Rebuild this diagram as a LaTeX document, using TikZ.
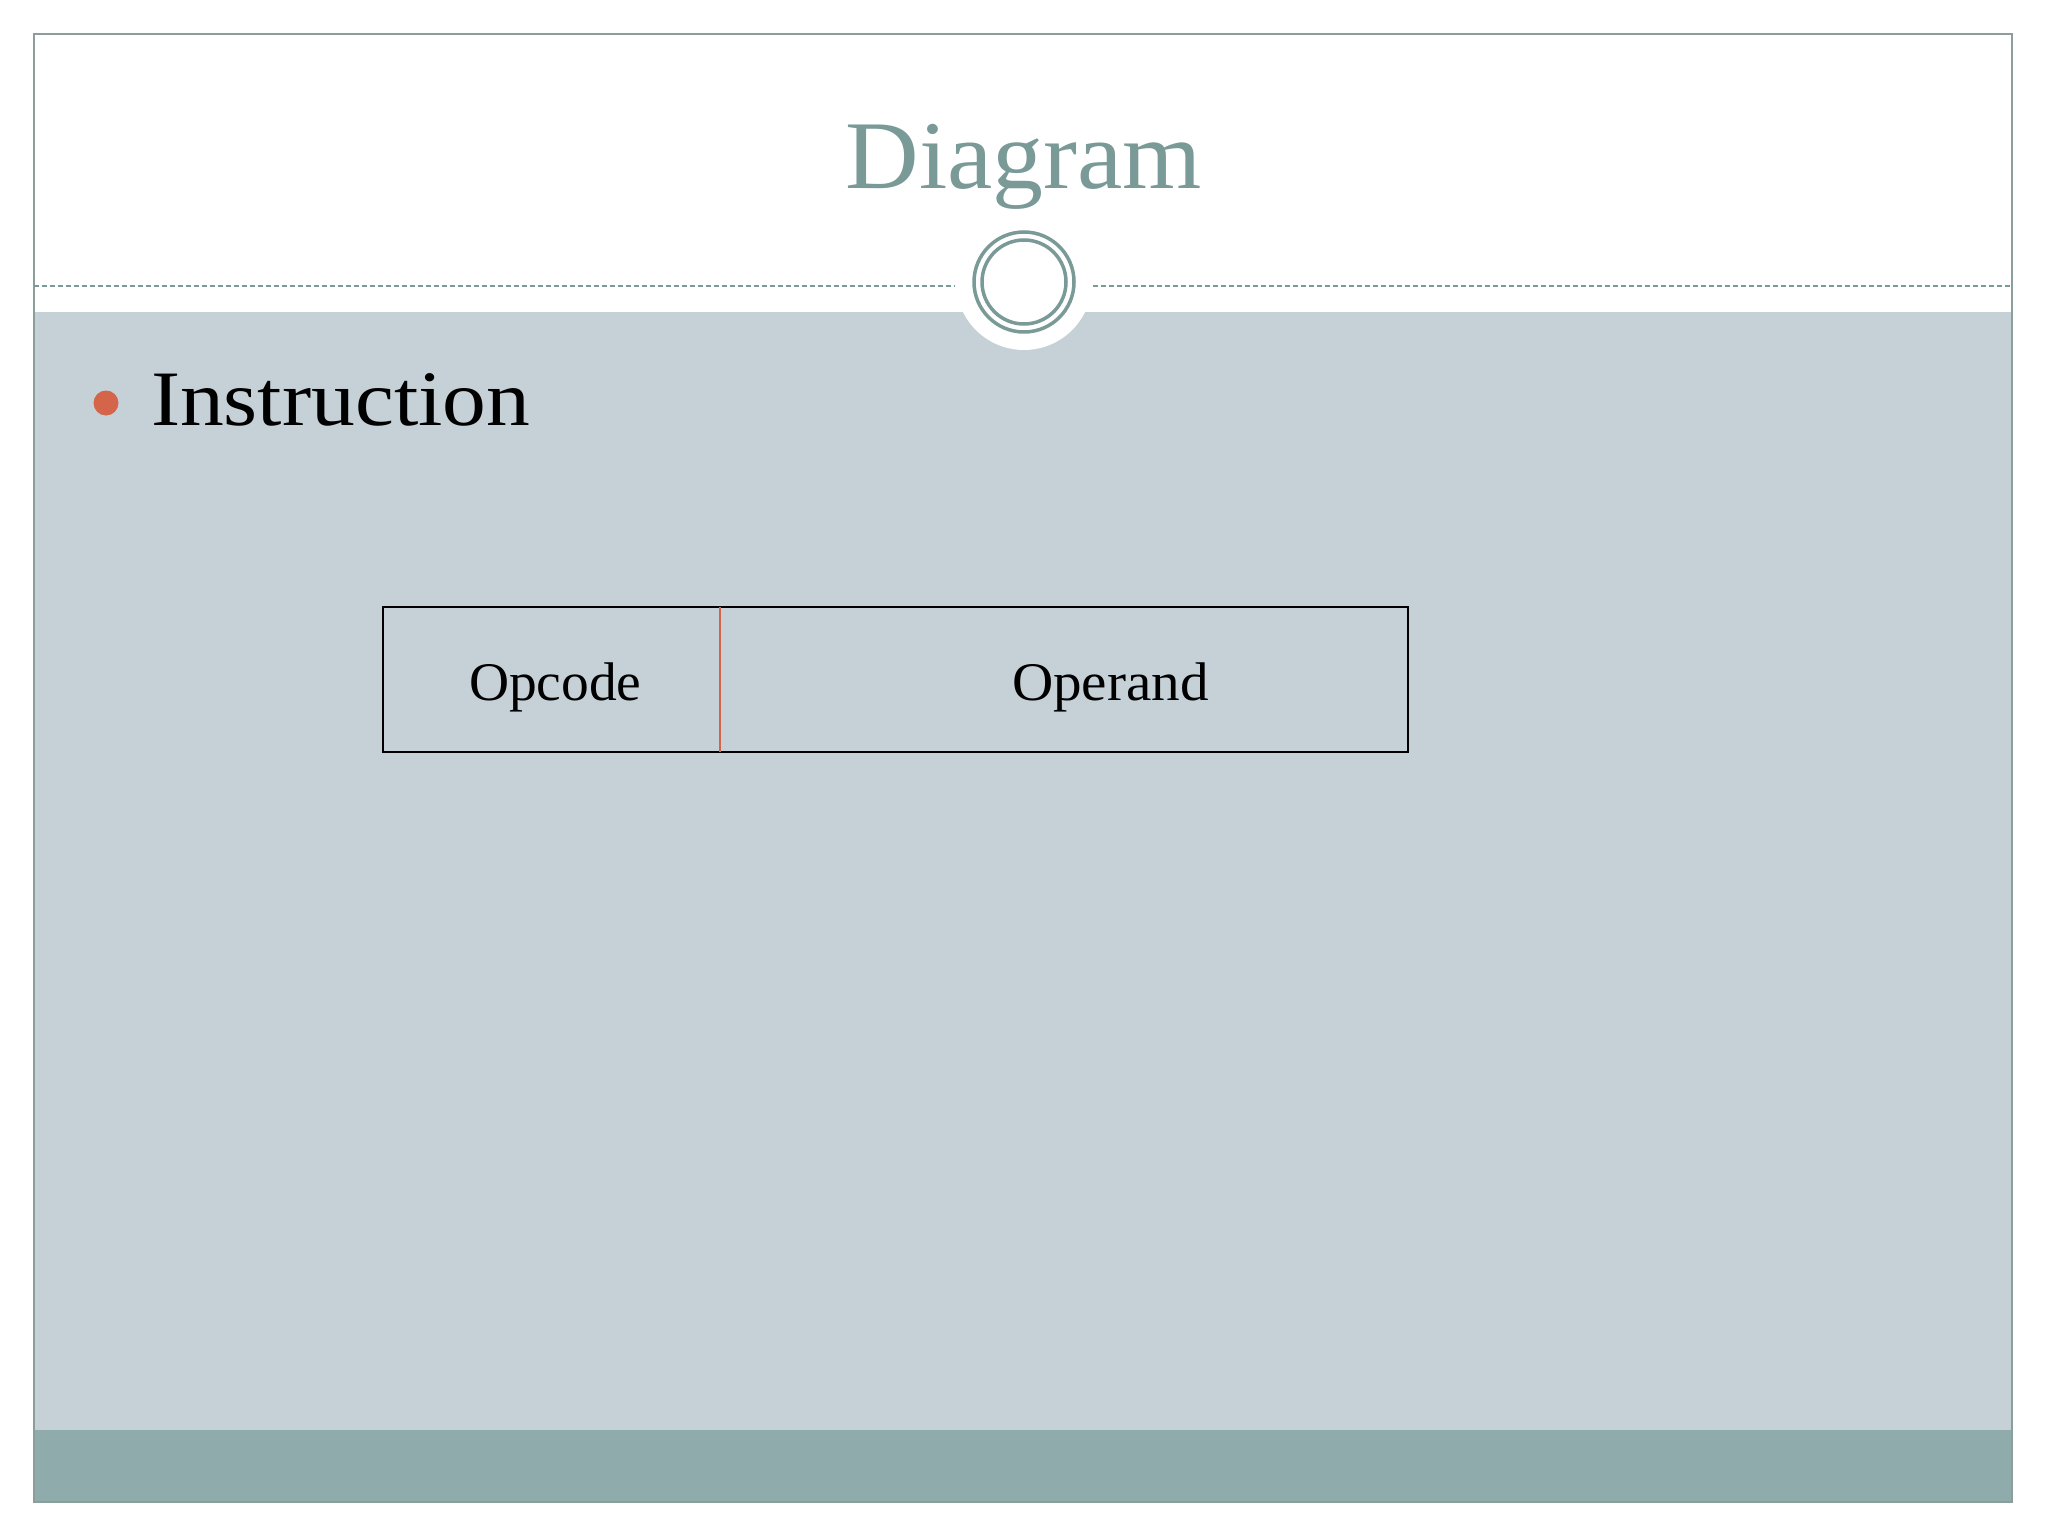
\documentclass[tikz,border=0pt]{standalone}
\usepackage{fontspec}
\setmainfont{Liberation Serif}
\newfontfamily\titlefont[FakeStretch=1.05]{Liberation Serif}
\newfontfamily\bulletfont[FakeStretch=1.115]{Liberation Serif}
\newfontfamily\cellfont[FakeStretch=1.02]{Liberation Serif}
\newfontfamily\cellfontb[FakeStretch=1.05]{Liberation Serif}
\definecolor{slidebg}{HTML}{C5D1D7}
\definecolor{footer}{HTML}{8FABAB}
\definecolor{accent}{HTML}{7A9A98}
\definecolor{framec}{HTML}{8A9E9C}
\definecolor{orangec}{HTML}{D4644A}
\tikzset{
  txt/.style={inner sep=0pt, outer sep=0pt, anchor=base west, text=black},
  cellbox/.style={inner sep=0pt, outer sep=0pt, minimum height=145pt, anchor=north west},
  ringline/.style={draw=accent, line width=3.5pt},
}
\begin{document}
\begin{tikzpicture}[x=1pt,y=-1pt]
\useasboundingbox (0,0) rectangle (2048,1536);
\fill[white] (0,0) rectangle (2048,1536);
% content area
\fill[slidebg] (34,312) rectangle (2012,1430);
\fill[footer] (34,1430) rectangle (2012,1502);
% frame
\draw[framec, line width=2pt] (34,34) rectangle (2012,1502);
% white backing circle for ornament
\fill[white] (1024,282) circle[radius=68];
% dashed rule
\coordinate (dl1) at (34,286);
\coordinate (dl2) at (955,286);
\coordinate (dr1) at (1093,286);
\coordinate (dr2) at (2012,286);
\draw[accent, line width=1.4pt, dash pattern=on 5pt off 3pt] (dl1) -- (dl2);
\draw[accent, line width=1.4pt, dash pattern=on 5pt off 3pt] (dr1) -- (dr2);
% ornament rings
\node[circle, ringline, minimum size=100pt, inner sep=0pt] (ringout) at (1024,282) {};
\node[circle, ringline, minimum size=84pt, inner sep=0pt] (ringin) at (1024,282) {};
% title
\node[txt, text=accent, anchor=base] (title) at (1024,188) {\titlefont\fontsize{97}{110}\selectfont Diagram};
% bullet
\fill[orangec] (106,403) circle[radius=12.5];
\node[txt] (instr) at (151,425) {\bulletfont\fontsize{78.5}{90}\selectfont Instruction};
% table
\node[cellbox, minimum width=337pt] (opc) at (383,607) {};
\node[cellbox, minimum width=688pt] (opd) at (720,607) {};
\draw[black, line width=2pt] (opc.north west) rectangle (opd.south east);
\draw[orangec, line width=2.6pt] (opc.north east) -- (opc.south east);
\node[txt] (opctxt) at (469,700) {\cellfont\fontsize{54.4}{64}\selectfont Opcode};
\node[txt] (opdtxt) at (1012,700) {\cellfontb\fontsize{54.4}{64}\selectfont Operand};
\end{tikzpicture}
\end{document}
